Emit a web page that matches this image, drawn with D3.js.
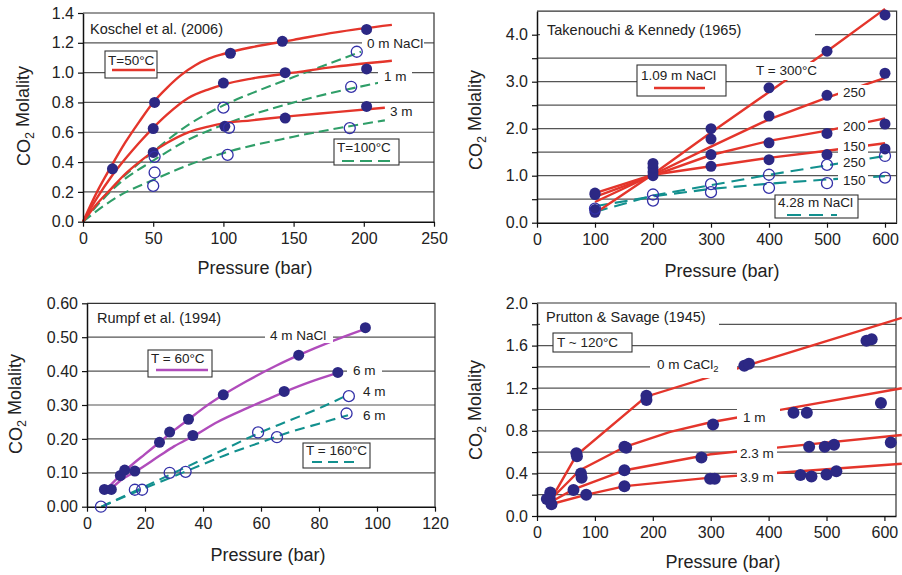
<!DOCTYPE html>
<html><head><meta charset="utf-8">
<script src="https://cdn.jsdelivr.net/npm/d3@7"></script>
<style>
body{margin:0;background:#fff;}
svg{display:block;font-family:"Liberation Sans",Arial,Helvetica,sans-serif;}
</style></head><body>
<svg id="c" width="902" height="575"></svg>
<script>
// ================= DATA =================
// --- Koschel et al. (2006): pressure (bar), CO2 molality
const kos50Curve0m = [[0,0],[10,0.2],[20,0.37],[30,0.53],[40,0.67],[50,0.8],[60,0.9],[70,0.985],[80,1.05],[90,1.095],[100,1.125],[120,1.17],[150,1.22],[180,1.27],[220,1.32]];
const kos50Curve1m = [[0,0],[10,0.16],[20,0.3],[30,0.42],[40,0.53],[50,0.63],[60,0.72],[75,0.83],[90,0.89],[100,0.92],[120,0.96],[150,1.0],[180,1.04],[220,1.08]];
const kos50Curve3m = [[0,0],[10,0.12],[20,0.22],[30,0.32],[40,0.4],[50,0.47],[60,0.53],[75,0.6],[90,0.64],[100,0.66],[120,0.68],[150,0.71],[180,0.735],[215,0.765]];
const kos100Curve0m = [[0,0],[20,0.22],[50,0.47],[75,0.65],[100,0.78],[125,0.88],[150,0.97],[175,1.06],[198,1.14]];
const kos100Curve1m = [[0,0],[25,0.25],[50,0.41],[75,0.55],[100,0.65],[150,0.8],[215,0.94]];
const kos100Curve3m = [[0,0],[25,0.17],[50,0.28],[75,0.38],[100,0.46],[150,0.57],[215,0.68]];
const kos50Points = [[21,0.355],[51,0.8],[105,1.13],[142,1.21],[202,1.29],[50,0.625],[100,0.93],[144,1.0],[202,1.025],[50,0.465],[101,0.64],[144,0.695],[202,0.773]];
const kos100Points = [[51,0.435],[100,0.765],[195,1.14],[51,0.33],[104,0.63],[191,0.905],[50,0.24],[103,0.448],[190,0.628]];

// --- Takenouchi & Kennedy (1965)
const tk109_300 = [[100,0.2],[200,1.03],[300,1.92],[400,2.78],[500,3.65],[600,4.55]];
const tk109_250 = [[100,0.44],[200,1.02],[300,1.62],[400,2.2],[500,2.66],[600,3.08]];
const tk109_200 = [[100,0.55],[200,1.0],[300,1.44],[400,1.74],[500,1.96],[600,2.22]];
const tk109_150 = [[100,0.63],[200,1.02],[300,1.2],[400,1.38],[500,1.53],[600,1.69]];
const tk428_250 = [[100,0.23],[200,0.58],[300,0.8],[400,1.02],[500,1.22],[600,1.42]];
const tk428_150 = [[100,0.35],[200,0.56],[300,0.72],[400,0.83],[500,0.92],[600,0.99]];
const tkFilled = [[100,0.6],[100,0.63],[100,0.28],[100,0.22],[200,1.0],[200,1.08],[200,1.17],[200,1.26],
  [300,2.0],[300,1.78],[300,1.45],[300,1.2],[400,2.87],[400,2.27],[400,1.7],[400,1.34],
  [500,3.65],[500,2.71],[500,1.9],[500,1.45],[600,4.42],[600,3.18],[600,2.1],[600,1.57]];
const tkOpen = [[100,0.3],[200,0.6],[200,0.47],[300,0.82],[300,0.65],[400,1.02],[400,0.74],[500,1.23],[500,0.84],[600,1.42],[600,0.96]];

// --- Rumpf et al. (1994)
const ru60_4m = [[6,0.045],[10,0.08],[15,0.12],[20,0.155],[25,0.19],[30,0.225],[35,0.257],[40,0.29],[47,0.33],[55,0.37],[65,0.415],[73,0.447],[85,0.49],[96,0.525]];
const ru60_6m = [[8,0.05],[12,0.08],[17,0.105],[25,0.15],[30,0.178],[37,0.21],[45,0.25],[55,0.29],[62,0.316],[68,0.338],[77,0.368],[87,0.396]];
const ru160_4m = [[5,0],[10,0.02],[20,0.06],[30,0.1],[40,0.14],[50,0.18],[60,0.22],[70,0.255],[80,0.29],[90,0.33]];
const ru160_6m = [[5,0],[20,0.055],[30,0.09],[40,0.125],[50,0.16],[60,0.19],[70,0.22],[80,0.245],[90,0.27]];
const ruFilled = [[6,0.051],[8.4,0.051],[11.5,0.092],[13,0.108],[16.5,0.105],[25,0.19],[28.5,0.22],[35,0.258],[36.5,0.21],[47,0.33],[68,0.34],[73,0.447],[86.5,0.396],[96,0.528]];
const ruOpen = [[4.8,0],[16.5,0.05],[19,0.05],[28.5,0.1],[34,0.103],[59,0.219],[65.5,0.205],[90.3,0.326],[89.5,0.275]];

// --- Prutton & Savage (1945)
const ps0m = [[30,0.21],[68,0.57],[188,1.12],[630,1.86]];
const ps1m = [[30,0.19],[74,0.43],[152,0.65],[230,0.79],[300,0.88],[630,1.2]];
const ps23m = [[30,0.15],[63,0.25],[152,0.43],[300,0.58],[630,0.76]];
const ps39m = [[30,0.12],[86,0.2],[152,0.28],[300,0.36],[630,0.49]];
const psPoints = [[23,0.22],[68,0.59],[69,0.56],[189,1.13],[189,1.09],[358,1.41],[366,1.43],[569,1.645],[578,1.66],
  [22,0.17],[76,0.4],[151,0.65],[154,0.64],[304,0.86],[443,0.97],[466,0.97],[594,1.06],
  [17,0.16],[77,0.36],[151,0.43],[284,0.55],[470,0.65],[497,0.65],[513,0.67],[611,0.69],
  [25,0.11],[63,0.245],[85,0.2],[151,0.28],[299,0.35],[307,0.35],[455,0.385],[474,0.37],[500,0.39],[517,0.42]];

// tick values
const kosXTicks = [0,50,100,150,200,250];
const kosYTicks = [0,0.2,0.4,0.6,0.8,1.0,1.2,1.4];
const tkXTicks = [0,100,200,300,400,500,600];
const tkYTicks = [0,0.5,1,1.5,2,2.5,3,3.5,4];
const ruXTicks = [0,20,40,60,80,100,120];
const ruYTicks = [0,0.1,0.2,0.3,0.4,0.5,0.6];
const psXTicks = [0,100,200,300,400,500,600];
const psYTicks = [0,0.2,0.4,0.6,0.8,1.0,1.2,1.4,1.6,1.8,2.0];

// ================= STYLE =================
const RED = '#e4352b', GREEN = '#2f9e68', TEAL = '#12908e', MAG = '#b04cbb';
const NAVY = '#2c2884', OPEN = '#3330a8';
const svg = d3.select('#c');

function drawPanel(cfg){
  const x = d3.scaleLinear().domain(cfg.xDomain).range([cfg.left, cfg.right]);
  const y = d3.scaleLinear().domain(cfg.yDomain).range([cfg.bottom, cfg.top]);
  const g = svg.append('g');
  // grid
  g.selectAll(null).data(cfg.grid).join('line')
    .attr('x1', cfg.left).attr('x2', cfg.right)
    .attr('y1', d => y(d)).attr('y2', d => y(d))
    .attr('stroke', '#555').attr('stroke-width', 1.2);
  // frame
  g.append('path').attr('d', `M${cfg.left},${y(cfg.yDomain[1])}H${x(cfg.xDomain[1])}V${y(cfg.yDomain[0])}`)
    .attr('fill','none').attr('stroke','#333').attr('stroke-width',1.2);
  // curves
  cfg.curves.forEach(c => {
    g.append('path').datum(c.data)
      .attr('d', d3.line().x(d => x(d[0])).y(d => y(d[1])).curve(c.curve || d3.curveMonotoneX))
      .attr('fill','none').attr('stroke', c.color).attr('stroke-width', c.width || 2.4)
      .attr('stroke-dasharray', c.dash || null);
  });
  // labels with white background
  cfg.labels.forEach(l => {
    if (l.bg) g.append('rect').attr('x', l.bg[0]).attr('y', l.bg[1]).attr('width', l.bg[2]-l.bg[0]).attr('height', l.bg[3]-l.bg[1]).attr('fill','#fff');
    const t = g.append('text').attr('x', l.x).attr('y', l.y).attr('font-size', l.size || 13.5).attr('fill','#222');
    if (l.sub) {
      t.append('tspan').text(l.text);
      t.append('tspan').text(l.sub).attr('font-size', '70%').attr('dy', '0.3em');
    } else t.text(l.text);
  });
  // legend boxes
  cfg.legends.forEach(L => {
    g.append('rect').attr('x', L.box[0]).attr('y', L.box[1]).attr('width', L.box[2]-L.box[0]).attr('height', L.box[3]-L.box[1])
      .attr('fill','#fff').attr('stroke','#333').attr('stroke-width',1.1);
    g.append('text').attr('x', L.tx).attr('y', L.ty).attr('font-size', 13.5).attr('fill','#222').text(L.text);
    if (L.line) g.append('line').attr('x1', L.line[0]).attr('x2', L.line[1]).attr('y1', L.line[2]).attr('y2', L.line[2])
      .attr('stroke', L.color).attr('stroke-width', L.width || 2.4).attr('stroke-dasharray', L.dash || null);
  });
  // axes
  const ax = g.append('g').attr('transform', `translate(0,${cfg.bottom})`)
    .call(d3.axisBottom(x).tickValues(cfg.xTicks).tickFormat(d3.format('d')).tickSizeInner(5).tickSizeOuter(0).tickPadding(6));
  const ay = g.append('g').attr('transform', `translate(${cfg.left},0)`)
    .call(d3.axisLeft(y).tickValues(cfg.yTicks).tickFormat(cfg.yFmt).tickSizeInner(5).tickSizeOuter(0).tickPadding(4));
  [ax, ay].forEach(a => {
    a.attr('font-family', null).attr('font-size', 16);
    a.select('.domain').attr('stroke','#111').attr('stroke-width',1.5);
    a.selectAll('.tick line').attr('stroke','#111').attr('stroke-width',1.2);
    a.selectAll('.tick text').attr('fill','#222');
  });
  // markers
  g.selectAll(null).data(cfg.filled || []).join('circle')
    .attr('cx', d => x(d[0])).attr('cy', d => y(d[1])).attr('r', cfg.r || 5.5).attr('fill', NAVY);
  g.selectAll(null).data(cfg.open || []).join('circle')
    .attr('cx', d => x(d[0])).attr('cy', d => y(d[1])).attr('r', 5.5)
    .attr('fill','none').attr('stroke', OPEN).attr('stroke-width', 1.3);
  // axis titles
  g.append('text').attr('x', cfg.xTitle[0]).attr('y', cfg.xTitle[1]).attr('text-anchor','middle')
    .attr('font-size', 18).attr('fill','#222').text('Pressure (bar)');
  const yt = g.append('text').attr('transform', `translate(${cfg.yTitle[0]},${cfg.yTitle[1]}) rotate(-90)`)
    .attr('text-anchor','middle').attr('dy','0.35em').attr('font-size', 18).attr('fill','#222');
  yt.append('tspan').text('CO');
  yt.append('tspan').text('2').attr('font-size','70%').attr('dy','0.3em');
  yt.append('tspan').text(' Molality').attr('dy','-0.3em');
}

const f1 = d3.format('.1f'), f2 = d3.format('.2f');

// Panel 1
drawPanel({
  left:83, right:434, top:13, bottom:221.7, xDomain:[0,250], yDomain:[0,1.4],
  grid:[0.2,0.4,0.6,0.8,1.0,1.2], xTicks:kosXTicks, yTicks:kosYTicks, yFmt:f1,
  curves:[
    {data:kos100Curve0m, color:GREEN, width:2.1, dash:'10,5'},
    {data:kos100Curve1m, color:GREEN, width:2.1, dash:'10,5'},
    {data:kos100Curve3m, color:GREEN, width:2.1, dash:'10,5'},
    {data:kos50Curve0m, color:RED}, {data:kos50Curve1m, color:RED}, {data:kos50Curve3m, color:RED}
  ],
  labels:[
    {text:'Koschel et al. (2006)', x:90, y:34, size:14.5},
    {text:'0 m NaCl', x:367, y:48, bg:[362,36,424,52]},
    {text:'1 m', x:384, y:81, bg:[378,69,412,85]},
    {text:'3 m', x:390, y:116, bg:[385,105,418,120]}
  ],
  legends:[
    {box:[105,51,157,78], text:'T=50°C', tx:108, ty:65, line:[112,155,70], color:RED},
    {box:[334,139,399,165], text:'T=100°C', tx:337, ty:152, line:[342,390,161], color:GREEN, dash:'12,6', width:2.2}
  ],
  filled:kos50Points, open:kos100Points,
  xTitle:[255,274], yTitle:[24,116]
});

// Panel 2
drawPanel({
  left:537, right:896.6, top:11.2, bottom:222.7, xDomain:[0,620], yDomain:[0,4.5],
  grid:[0.5,1,1.5,2,2.5,3,3.5,4], xTicks:tkXTicks, yTicks:tkYTicks, yFmt:d => Number.isInteger(d) ? f1(d) : '',
  curves:[
    {data:tk428_250, color:TEAL, width:2.1, dash:'13,7', curve:d3.curveLinear},
    {data:tk428_150, color:TEAL, width:2.1, dash:'13,7', curve:d3.curveLinear},
    {data:tk109_300, color:RED, curve:d3.curveLinear}, {data:tk109_250, color:RED, curve:d3.curveLinear},
    {data:tk109_200, color:RED, curve:d3.curveLinear}, {data:tk109_150, color:RED, curve:d3.curveLinear}
  ],
  labels:[
    {text:'Takenouchi & Kennedy  (1965)', x:547, y:35, size:14.5, bg:[540,22,815,40]},
    {text:'T = 300°C', x:756, y:75, bg:[752,62,820,80]},
    {text:'250', x:843, y:97, bg:[838,85,868,101]},
    {text:'200', x:843, y:131, bg:[838,119,868,135]},
    {text:'150', x:843, y:151, bg:[838,140,868,155]},
    {text:'250', x:843, y:167, bg:[838,157,868,171]},
    {text:'150', x:843, y:185, bg:[838,174,868,189]}
  ],
  legends:[
    {box:[637,65,726,96], text:'1.09 m NaCl', tx:641, ty:80, line:[654,705,88], color:RED},
    {box:[775,195,858,218], text:'4.28 m NaCl', tx:778, ty:207, line:[787,837,215], color:TEAL, dash:'14,8', width:2.2}
  ],
  filled:tkFilled, open:tkOpen,
  xTitle:[722,277], yTitle:[476,120]
});

// Panel 3
drawPanel({
  left:87, right:435, top:303.3, bottom:506.7, xDomain:[0,120], yDomain:[0,0.6],
  grid:[0.1,0.2,0.3,0.4,0.5], xTicks:ruXTicks, yTicks:ruYTicks, yFmt:f2,
  curves:[
    {data:ru160_4m, color:TEAL, width:2.1, dash:'10,6'},
    {data:ru160_6m, color:TEAL, width:2.1, dash:'10,6'},
    {data:ru60_4m, color:MAG}, {data:ru60_6m, color:MAG}
  ],
  labels:[
    {text:'Rumpf et al. (1994)', x:97, y:323, size:14.5},
    {text:'4 m NaCl', x:270, y:340, bg:[265,327,333,343]},
    {text:'6 m', x:353, y:375, bg:[347,362,382,378]},
    {text:'4 m', x:363, y:396, bg:[358,384,390,399]},
    {text:'6 m', x:363, y:420, bg:[358,408,390,423]}
  ],
  legends:[
    {box:[148,350,212,377], text:'T = 60°C', tx:151, ty:363, line:[156,208,370], color:MAG},
    {box:[303,443,370,468], text:'T = 160°C', tx:306, ty:455, line:[312,358,462], color:TEAL, dash:'10,6', width:2.2}
  ],
  filled:ruFilled, open:ruOpen,
  xTitle:[268,561], yTitle:[16,404]
});

// Panel 4
drawPanel({
  left:537, right:896, top:303, bottom:516, xDomain:[0,620], yDomain:[0,2.0],
  grid:[0.2,0.4,0.6,0.8,1.0,1.2,1.4,1.6,1.8], xTicks:psXTicks, yTicks:psYTicks,
  yFmt:d => (Math.round(d*10) % 4 === 0) ? f1(d) : '',
  curves:[
    {data:ps0m, color:RED, curve:d3.curveLinear}, {data:ps1m, color:RED, curve:d3.curveLinear},
    {data:ps23m, color:RED, curve:d3.curveLinear}, {data:ps39m, color:RED, curve:d3.curveLinear}
  ],
  labels:[
    {text:'Prutton & Savage (1945)', x:546, y:322, size:14.5, bg:[540,309,719,327]},
    {text:'0 m CaCl', sub:'2', x:657, y:369, bg:[650,357,737,378]},
    {text:'1 m', x:743, y:422, bg:[737,405,780,425]},
    {text:'2.3 m', x:740, y:458, bg:[737,446,777,461]},
    {text:'3.9 m', x:740, y:482, bg:[737,470,777,485]}
  ],
  legends:[
    {box:[553,333,632,352], text:'T ~ 120°C', tx:557, ty:347}
  ],
  filled:psPoints, open:[], r:6,
  xTitle:[723,568], yTitle:[476,410]
});
</script>
</body></html>
